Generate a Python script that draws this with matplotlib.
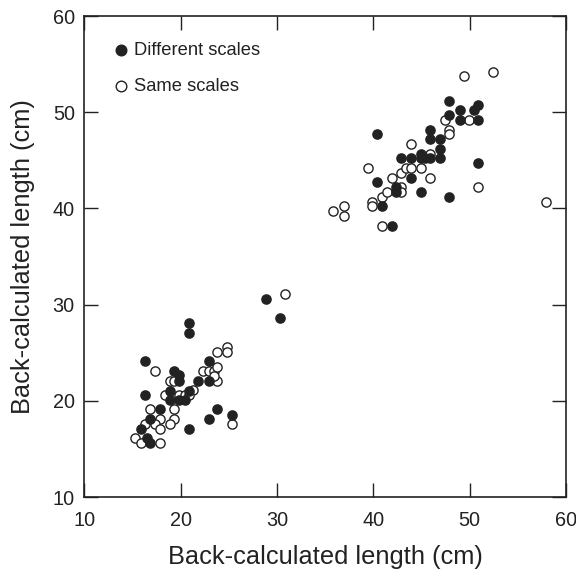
import matplotlib.pyplot as plt

plt.rcParams['font.family'] = ['Liberation Sans', 'DejaVu Sans']

# back-calculated lengths (cm)
diff_x = [20.9, 20.9, 16.3, 19.3, 19.8, 19.8, 22.9, 21.8, 22.9, 16.3, 18.9, 20.9,
          18.9, 19.8, 20.4, 17.8, 16.8, 15.9, 16.5, 16.8, 20.9, 23.8, 22.9, 25.3,
          28.8, 30.3,
          47.9, 49.0, 47.9, 49.0, 50.9, 50.4, 50.9, 40.4, 45.9, 45.9, 46.9, 46.9,
          44.9, 42.9, 43.9, 44.9, 45.4, 45.9, 46.9, 50.9, 40.4, 43.9, 42.4, 42.4,
          44.9, 47.9, 40.9, 41.9]
diff_y = [28.1, 27.1, 24.1, 23.1, 22.7, 22.1, 24.1, 22.1, 22.1, 20.6, 21.0, 21.0,
          20.1, 20.1, 20.1, 19.1, 18.1, 17.1, 16.1, 15.6, 17.1, 19.1, 18.1, 18.5,
          30.6, 28.6,
          51.2, 50.2, 49.7, 49.2, 49.2, 50.2, 50.7, 47.7, 48.2, 47.2, 47.2, 46.2,
          45.7, 45.2, 45.2, 45.2, 45.2, 45.2, 45.2, 44.7, 42.7, 43.2, 42.2, 41.7,
          41.7, 41.2, 40.2, 38.2]

same_x = [24.8, 24.8, 23.8, 17.3, 22.3, 22.9, 23.4, 23.8, 23.8, 23.4, 18.9, 19.3,
          21.3, 18.4, 19.8, 20.4, 20.9, 16.8, 19.3, 17.8, 19.3, 16.3, 17.3, 18.9,
          17.8, 25.3, 15.2, 15.9, 17.8,
          30.8,
          49.4, 52.4, 57.9, 35.8, 36.9, 36.9, 39.9, 39.9, 40.9, 41.4, 40.9, 39.4,
          41.9, 42.9, 42.9, 42.9, 43.4, 43.9, 43.9, 44.9, 45.9, 45.9, 47.4, 47.9,
          47.9, 49.9, 50.9]
same_y = [25.6, 25.1, 25.1, 23.1, 23.1, 23.1, 23.1, 23.5, 22.1, 22.6, 22.1, 22.1,
          21.1, 20.6, 20.6, 20.6, 20.6, 19.1, 19.1, 18.1, 18.1, 17.6, 17.6, 17.6,
          17.1, 17.6, 16.1, 15.6, 15.6,
          31.1,
          53.8, 54.2, 40.7, 39.7, 40.2, 39.2, 40.7, 40.2, 41.2, 41.7, 38.2, 44.2,
          43.2, 43.7, 42.2, 41.7, 44.2, 44.2, 46.7, 44.2, 43.2, 45.7, 49.2, 48.2,
          47.7, 49.2, 42.2]

ink = '#222222'

fig = plt.figure(figsize=(5.76, 5.72), dpi=100)
ax = fig.add_axes([0.1467, 0.1311, 0.8359, 0.8409])

ax.scatter(same_x, same_y, s=44, facecolors='white', edgecolors=ink,
           linewidths=1.0, label='Same scales', zorder=2)
ax.scatter(diff_x, diff_y, s=44, facecolors=ink, edgecolors=ink,
           linewidths=1.0, label='Different scales', zorder=3)

ax.set_xlim(10, 60)
ax.set_ylim(10, 60)
ax.set_xticks(range(10, 61, 10))
ax.set_yticks(range(10, 61, 10))
ax.tick_params(direction='in', length=10, width=1.0, top=True, right=True,
               labelsize=14.3, colors=ink, pad=7)
ax.tick_params(axis='x', pad=10)
for sp in ax.spines.values():
    sp.set_color(ink)
    sp.set_linewidth(1.2)

ax.set_xlabel('Back-calculated length (cm)', fontsize=18.3, color=ink, labelpad=11)
ax.set_ylabel('Back-calculated length (cm)', fontsize=18.3, color=ink, labelpad=13)

handles, labels = ax.get_legend_handles_labels()
ax.legend(handles[::-1], labels[::-1], loc='upper left', frameon=False,
          fontsize=13.2, handletextpad=0.1, labelspacing=1.05,
          borderaxespad=1.0, handlelength=1.2, labelcolor=ink, markerscale=1.15)

plt.savefig('out.png', dpi=100)
plt.close()
